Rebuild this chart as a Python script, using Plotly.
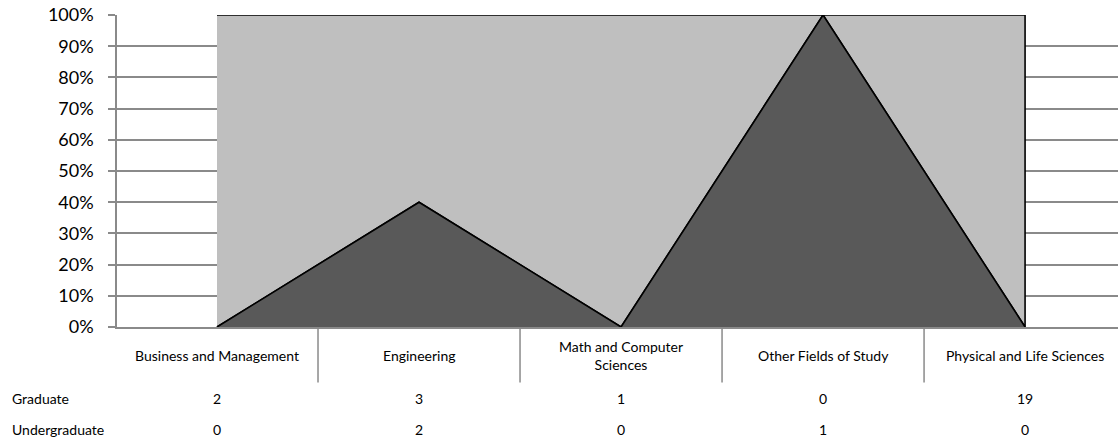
import plotly.graph_objects as go

categories = ["Business and Management", "Engineering", "Math and Computer Sciences",
              "Other Fields of Study", "Physical and Life Sciences"]
category_labels = ["Business and Management", "Engineering", "Math and Computer<br>Sciences",
                   "Other Fields of Study", "Physical and Life Sciences"]
graduate = [2, 3, 1, 0, 19]
undergraduate = [0, 2, 0, 1, 0]
series_names = ["Graduate", "Undergraduate"]
y_ticks = [0, 10, 20, 30, 40, 50, 60, 70, 80, 90, 100]
y_tick_text = [f"{v}%" for v in y_ticks]

n = len(categories)
xs = list(range(n))
totals = [g + u for g, u in zip(graduate, undergraduate)]
u_pct = [u / t * 100 if t else 0 for u, t in zip(undergraduate, totals)]
top_pct = [100.0] * n

FONT = "Lato"
GRID = "#8a8a8a"
TS = 14

fig = go.Figure()
# Graduate (light) area: between undergraduate share and 100%
fig.add_trace(go.Scatter(
    x=xs + xs[::-1], y=u_pct + top_pct[::-1], fill="toself",
    fillcolor="#BFBFBF", mode="lines", line=dict(color="#000000", width=1.6),
    name=series_names[0], hoverinfo="skip"))
# Undergraduate (dark) area
fig.add_trace(go.Scatter(
    x=xs, y=u_pct, fill="tozeroy", fillcolor="#595959", mode="lines",
    line=dict(color="#000000", width=1.6), name=series_names[1], hoverinfo="skip"))

# data table: category labels
for i, lab in enumerate(category_labels):
    fig.add_annotation(x=i, y=-0.09, xref="x", yref="paper", text=lab, showarrow=False,
                       font=dict(family=FONT, size=TS, color="#000"), yanchor="middle",
                       xanchor="center")
# values rows
rows = [graduate, undergraduate]
row_y = [-0.228, -0.33]
for name, vals, ry in zip(series_names, rows, row_y):
    fig.add_annotation(x=-0.107, y=ry, xref="paper", yref="paper", text=name, showarrow=False,
                       xanchor="left", yanchor="middle",
                       font=dict(family=FONT, size=TS, color="#000"))
    for i, v in enumerate(vals):
        fig.add_annotation(x=i, y=ry, xref="x", yref="paper", text=str(v), showarrow=False,
                           xanchor="center", yanchor="middle",
                           font=dict(family=FONT, size=TS, color="#000"))
# column dividers
for i in range(n - 1):
    fig.add_shape(type="line", x0=i + 0.5, x1=i + 0.5, y0=0, y1=-0.178, xref="x", yref="paper",
                  line=dict(color=GRID, width=1.5))

fig.update_layout(
    width=1118, height=440, margin=dict(l=117, r=0, t=15, b=113),
    paper_bgcolor="white", plot_bgcolor="white", showlegend=False,
    xaxis=dict(range=[-0.495, 4.46], showticklabels=False, showgrid=False, zeroline=False,
               showline=True, linecolor=GRID, linewidth=2, ticks=""),
    yaxis=dict(range=[0, 100], tickvals=y_ticks, ticktext=y_tick_text, showgrid=True,
               gridcolor=GRID, gridwidth=1.5, zeroline=False, showline=True, linecolor=GRID,
               linewidth=1.5, ticks="outside", ticklen=7, tickcolor=GRID, tickwidth=1.5,
               ticklabelstandoff=11,
               tickfont=dict(family=FONT, size=18, color="#000")),
)
fig.write_html("out.html", config={"displayModeBar": False},
               post_script="document.body.style.margin='0';document.body.style.overflow='hidden';")
